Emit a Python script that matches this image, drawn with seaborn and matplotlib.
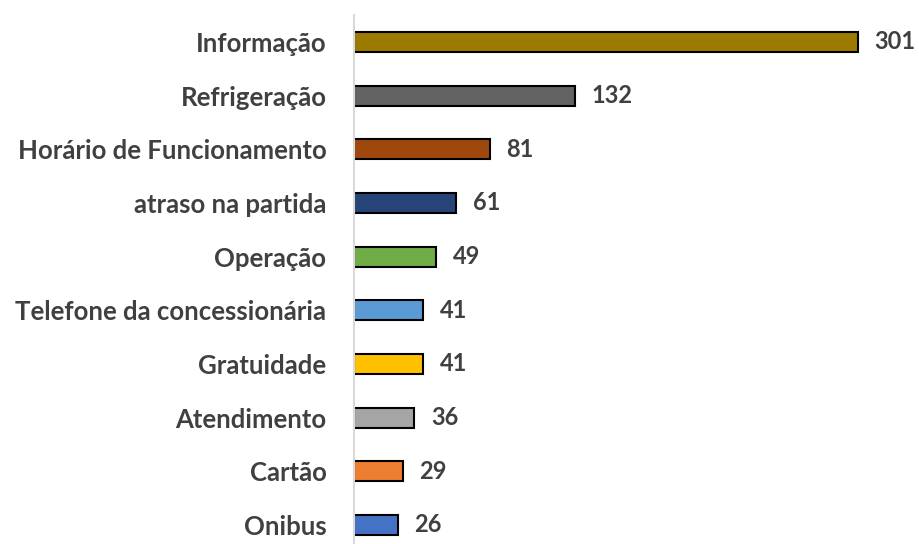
import matplotlib
matplotlib.use("Agg")
import matplotlib.pyplot as plt
import seaborn as sns
import pandas as pd

categorias = ["Informação", "Refrigeração", "Horário de Funcionamento", "atraso na partida",
              "Operação", "Telefone da concessionária", "Gratuidade", "Atendimento",
              "Cartão", "Onibus"]
valores = [301, 132, 81, 61, 49, 41, 41, 36, 29, 26]
cores = ["#9C7A00", "#636363", "#9E480E", "#264478", "#70AD47", "#5B9BD5",
         "#FFC000", "#A5A5A5", "#ED7D31", "#4472C4"]

df = pd.DataFrame({"categoria": categorias, "valor": valores})

sns.set_style("white")
plt.rcParams["font.family"] = ["Lato", "DejaVu Sans"]

fig = plt.figure(figsize=(9.2, 5.44), dpi=100)
ax = fig.add_axes([0.385, 0.0, 0.6, 0.9724])

sns.barplot(data=df, x="valor", y="categoria", hue="categoria", palette=cores,
            saturation=1, legend=False, orient="h", width=0.372,
            edgecolor="black", linewidth=1.5, ax=ax)

for c in ax.containers:
    ax.bar_label(c, padding=12, fontsize=17, fontweight="bold", color="#404040")

ax.set_xlim(0, 330)
ax.set_ylim(9.354, -0.5)
ax.set_xlabel("")
ax.set_ylabel("")
ax.set_xticks([])
ax.tick_params(axis="y", length=0, pad=20, labelsize=18.5, labelcolor="#404040")
for lbl in ax.get_yticklabels():
    lbl.set_fontweight("bold")

for s in ["top", "right", "bottom"]:
    ax.spines[s].set_visible(False)
ax.spines["left"].set_color("#D9D9D9")
ax.spines["left"].set_linewidth(1.5)

fig.savefig("out.png", dpi=100)
